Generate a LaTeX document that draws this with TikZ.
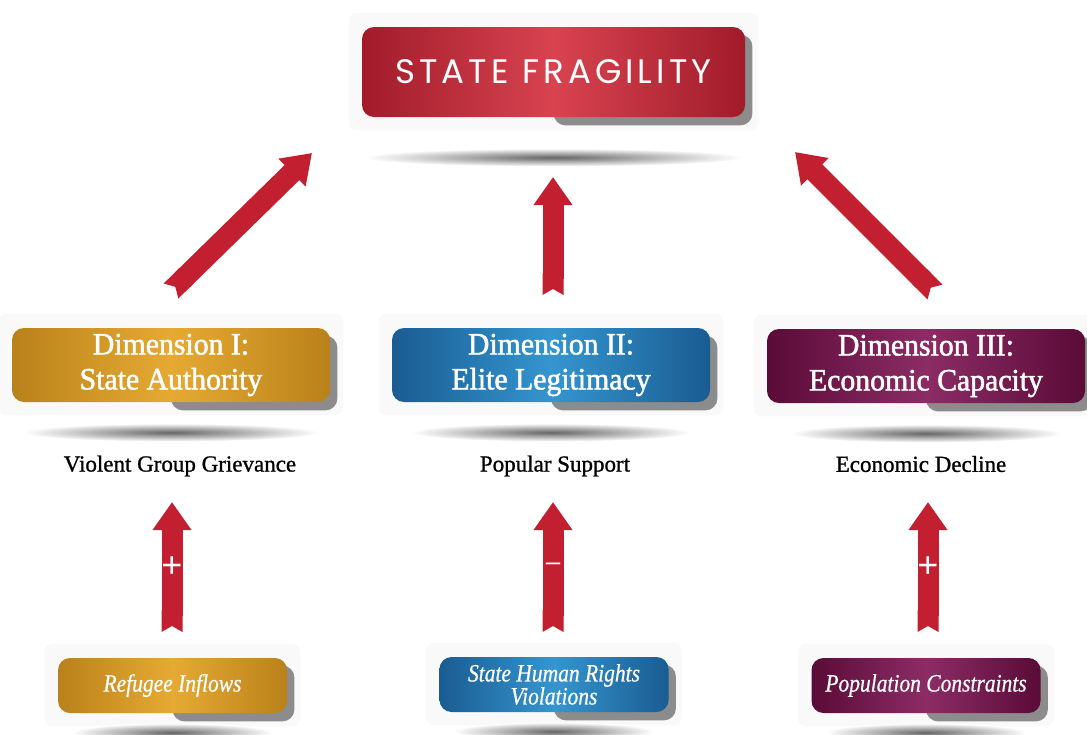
\documentclass[tikz,border=0pt]{standalone}
\usepackage{fontspec}
\setmainfont{Liberation Serif}[FakeBold=1]
\newfontfamily\titlefont{Poppins}[LetterSpace=12]
\newfontfamily\itfont{Liberation Serif Italic}[FakeStretch=0.86,FakeBold=0.6]
\newfontfamily\signfont{Liberation Sans}
\newfontfamily\dimfont{Liberation Serif}[FakeBold=1.6,FakeStretch=0.96]
\usetikzlibrary{arrows.meta,calc,backgrounds}
\definecolor{fragdark}{HTML}{A11B2B}
\definecolor{fraglight}{HTML}{D8434F}
\definecolor{golddark}{HTML}{B9811A}
\definecolor{goldlight}{HTML}{E6AA33}
\definecolor{bluedark}{HTML}{195C92}
\definecolor{bluelight}{HTML}{3595CF}
\definecolor{plumdark}{HTML}{5A0B37}
\definecolor{plumlight}{HTML}{8C2C66}
\definecolor{arrowred}{HTML}{C21F30}

\begin{document}
\begin{tikzpicture}[x=0.5pt,y=-0.5pt,
  box/.style={rounded corners=6pt,text=white,align=center,inner sep=0pt},
  topbox/.style={box,minimum width=191.5pt,minimum height=45pt,font=\titlefont\fontsize{17}{20}\selectfont,
    left color=fragdark,right color=fragdark,middle color=fraglight},
  dimbox/.style={box,minimum width=159pt,minimum height=37pt,font=\dimfont\fontsize{15.5}{17.5}\selectfont},
  refbox/.style={box,minimum width=114.5pt,minimum height=27.5pt,font=\itfont\fontsize{12.5}{11.5}\selectfont},
  gold/.style={left color=golddark,right color=golddark,middle color=goldlight},
  blue/.style={left color=bluedark,right color=bluedark,middle color=bluelight},
  plum/.style={left color=plumdark,right color=plumdark,middle color=plumlight},
  lbl/.style={font=\fontsize{11.5}{13}\selectfont},
  sign/.style={font=\signfont\fontsize{18}{18}\selectfont,text=white},
  plate/.style={fill=gray!5,rounded corners=4pt},
  boxshadow/.style={fill=black!45,rounded corners=6pt},
  floor/.style={inner color=black!60,outer color=white},
  bigarrow/.style={line width=10.5pt,draw=arrowred,{Triangle Cap[reversed,length=3pt]}-{Triangle[width=18.5pt,length=14pt]}}]
  \useasboundingbox (0,0) rectangle (1087,734);

  \node[topbox] (top) at (553.5,72) {STATE FRAGILITY};

  \node[dimbox,gold] (dimA) at (171,365) {Dimension I:\\State Authority};
  \node[dimbox,blue] (dimB) at (551,365) {Dimension II:\\Elite Legitimacy};
  \node[dimbox,plum] (dimC) at (926,366) {Dimension III:\\Economic Capacity};

  \node[lbl] (lblA) at (180,466) {Violent Group Grievance};
  \node[lbl] (lblB) at (555,466) {Popular Support};
  \node[lbl] (lblC) at (921,464) {Economic Decline};

  \node[refbox,gold] (refA) at (172.5,685.5) {Refugee Inflows};
  \node[refbox,blue] (refB) at (554,684.5) {State Human Rights\\Violations};
  \node[refbox,plum] (refC) at (926,685.5) {Population Constraints};

  \begin{pgfonlayer}{background}
  \foreach \n/\d/\r in {top/40/190,dimA/30/148,dimB/30/140,dimC/30/136,refA/19/100,refB/19/100,refC/19/100}{
    \fill[plate] ($(\n.north west)+(-13,-14)$) rectangle ($(\n.south east)+(13,13)$);
    \fill[boxshadow] ($(\n.north)+(0,8)$) rectangle ($(\n.south east)+(7,8)$);
    \shade[floor] ($(\n.south)+(0,\d)$) ellipse [x radius=\r, y radius=9];
  }
  \end{pgfonlayer}

  % arrows up to the top box
  \coordinate (fromA) at (171,291);
  \coordinate (toA) at (312,153);
  \coordinate (fromB) at (553,295);
  \coordinate (toB) at (553,177);
  \coordinate (fromC) at (935,292);
  \coordinate (toC) at (795,152);
  \draw[bigarrow] (fromA) -- (toA);
  \draw[bigarrow] (fromB) -- (toB);
  \draw[bigarrow] (fromC) -- (toC);

  % arrows from the drivers
  \coordinate (inA) at (172,632);
  \coordinate (outA) at (172,502);
  \coordinate (inB) at (553,632);
  \coordinate (outB) at (553,502);
  \coordinate (inC) at (928,632);
  \coordinate (outC) at (928,502);
  \draw[bigarrow] (inA) -- node[sign] {+} (outA);
  \draw[bigarrow] (inB) -- node[sign,font=\signfont\fontsize{13}{13}\selectfont] {–} (outB);
  \draw[bigarrow] (inC) -- node[sign] {+} (outC);
\end{tikzpicture}
\end{document}
